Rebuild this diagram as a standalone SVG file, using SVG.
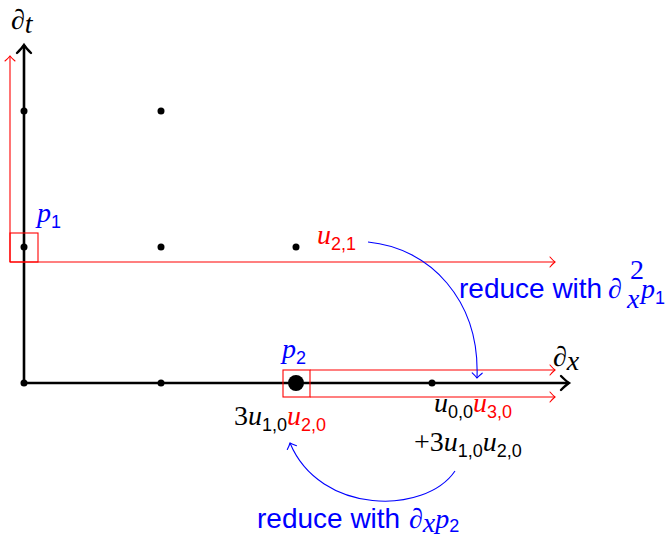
<svg xmlns="http://www.w3.org/2000/svg" width="672" height="539" viewBox="0 0 672 539">
<style>
.m{font-family:"Liberation Serif","DejaVu Serif",serif;font-style:italic;font-size:28px}
.s{font-family:"Liberation Sans","DejaVu Sans",sans-serif;font-style:normal;font-size:18px}
.rm{font-family:"Liberation Serif","DejaVu Serif",serif;font-style:normal;font-size:28px}
.t{font-family:"Liberation Sans","DejaVu Sans",sans-serif;font-size:28px;fill:#0000ff}
.blk{fill:#000}.red{fill:#ff0000}.blue{fill:#0000ff}
.ax{stroke:#000;stroke-width:2.6;fill:none}
.rl{stroke:#ff0000;stroke-width:1.1;fill:none}
.bl{stroke:#0000ff;stroke-width:1.1;fill:none}
</style>
<defs>
<marker id="ka" markerUnits="userSpaceOnUse" viewBox="-10 -8 12 16" refX="0" refY="0" markerWidth="12" markerHeight="16" orient="auto" overflow="visible">
<path d="M-8,-7 Q-3,-2 0,0 Q-3,2 -8,7" fill="none" stroke="#000" stroke-width="2.4" stroke-linecap="round"/>
</marker>
<marker id="ra" markerUnits="userSpaceOnUse" viewBox="-8 -6 10 12" refX="0" refY="0" markerWidth="10" markerHeight="12" orient="auto" overflow="visible">
<path d="M-5,-5 Q-2,-1.5 0,0 Q-2,1.5 -5,5" fill="none" stroke="#ff0000" stroke-width="1.1" stroke-linecap="round"/>
</marker>
<marker id="ba" markerUnits="userSpaceOnUse" viewBox="-8 -6 10 12" refX="0" refY="0" markerWidth="10" markerHeight="12" orient="auto" overflow="visible">
<path d="M-5,-5 Q-2,-1.5 0,0 Q-2,1.5 -5,5" fill="none" stroke="#0000ff" stroke-width="1.1" stroke-linecap="round"/>
</marker>
</defs>

<g id="axes">
<line class="ax" x1="24" y1="383" x2="24" y2="45" marker-end="url(#ka)"/>
<line class="ax" x1="24" y1="383" x2="569" y2="383" marker-end="url(#ka)"/>
<text class="m blk" x="11" y="29">∂<tspan class="m" font-size="19" dy="4">t</tspan></text>
<text class="m blk" x="553" y="366">∂<tspan class="m" font-size="19" dy="4">x</tspan></text>
</g>

<g id="points">
<circle cx="24" cy="111" r="3.5"/>
<circle cx="161" cy="111" r="3.5"/>
<circle cx="24" cy="247" r="3.5"/>
<circle cx="161" cy="247" r="3.5"/>
<circle cx="296" cy="247" r="3.5"/>
<circle cx="24" cy="383" r="3.5"/>
<circle cx="161" cy="383" r="3.5"/>
<circle cx="296" cy="383" r="8"/>
<circle cx="432" cy="383" r="3.5"/>
</g>

<g id="p1">
<rect class="rl" x="10" y="233" width="28" height="29"/>
<text class="m blue" x="37" y="222">p<tspan class="s" dy="6">1</tspan></text>
</g>

<g id="p2">
<rect class="rl" x="283" y="370" width="27" height="27"/>
<text class="m blue" x="282" y="358">p<tspan class="s" dy="6">2</tspan></text>
</g>

<g id="labels">
<text class="m red" x="317" y="244">u<tspan class="s" dy="6">2,1</tspan></text>
<text class="m blk" x="234" y="425"><tspan class="rm">3</tspan>u<tspan class="s" dy="6">1,0</tspan><tspan class="m red" dy="-6">u</tspan><tspan class="s red" dy="6">2,0</tspan></text>
<text class="m blk" x="434" y="412">u<tspan class="s" dy="6">0,0</tspan><tspan class="m red" dy="-6">u</tspan><tspan class="s red" dy="6">3,0</tspan></text>
<text class="m blk" x="414" y="451"><tspan class="rm">+3</tspan>u<tspan class="s" dy="6">1,0</tspan><tspan dy="-6">u</tspan><tspan class="s" dy="6">2,0</tspan></text>
<text class="t" x="459" y="298">reduce with</text>
<text class="m blue" x="608" y="298">∂</text>
<text class="m blue" font-size="17" x="627" y="308">x</text>
<text class="rm blue" font-size="15" x="630" y="279">2</text>
<text class="m blue" x="641" y="298">p<tspan class="s" dy="6">1</tspan></text>
<text class="t" x="257" y="528">reduce with</text>
<text class="m blue" x="409" y="528">∂<tspan class="m" font-size="19" dy="4">x</tspan><tspan class="m" dy="-4">p</tspan><tspan class="s" dy="4">2</tspan></text>
</g>

<g id="connectors">
<polyline class="rl" points="10,262 10,56" marker-end="url(#ra)"/>
<line class="rl" x1="10" y1="262" x2="555" y2="262" marker-end="url(#ra)"/>
<line class="rl" x1="310" y1="370" x2="555" y2="370" marker-end="url(#ra)"/>
<line class="rl" x1="310" y1="397" x2="555" y2="397" marker-end="url(#ra)"/>
<path class="bl" d="M368,242 C430,248 480,300 477,378" marker-end="url(#ba)"/>
<path class="bl" d="M455,471 C425,515 320,515 290,443" marker-end="url(#ba)"/>
</g>
</svg>
